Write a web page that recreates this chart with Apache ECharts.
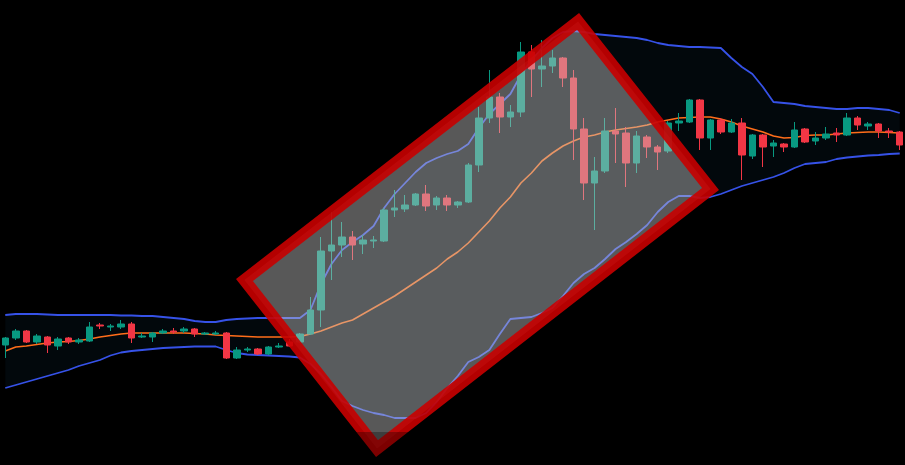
<!DOCTYPE html>
<html>
<head>
<meta charset="utf-8">
<title>Bollinger breakout</title>
<script src="https://cdn.jsdelivr.net/npm/echarts/dist/echarts.min.js"></script>
<style>
  html, body { margin: 0; padding: 0; background: #000; }
  #chart { width: 905px; height: 465px; }
</style>
</head>
<body>
<div id="chart"></div>
<script>
// candles: [open, close, low, high]
var candles = [
  [120,127,107,128],[127,134,125,136],[134,123,122,135],[123,129,121,131],[128,120,112,129],
  [119,126,115,128],[127,123,121,128],[123,125,121,127],[124,138,123,143],[140,139,136,142],
  [138,139,134,141],[138,141,136,145],[141,127,122,143],[128,129,127,132],[128,132,123,133],
  [132,134,131,136],[134,133,131,137],[134,136,132,138],[136,131,128,137],[131,132,130,133],
  [131,132,130,134],[132,107,106,133],[107,115,106,118],[115,116,113,118],[116,111,110,117],
  [111,118,110,119],[118,119,117,122],[123,119,118,126],[123,131,122,132],[131,155,130,168],
  [155,214,138,228],[214,220,185,253],[220,228,208,243],[228,220,205,234],[221,225,211,230],
  [224,225,217,229],[224,255,223,257],[255,257,248,275],[256,260,253,270],[260,271,259,272],
  [271,259,254,280],[260,267,255,269],[267,260,254,270],[260,263,257,264],[263,300,262,302],
  [300,347,293,358],[347,368,342,395],[368,348,332,372],[348,353,338,360],[353,413,348,423],
  [413,396,368,420],[396,399,378,425],[399,407,392,415],[407,387,378,408],[387,336,305,395],
  [336,282,265,347],[282,294,235,308],[294,334,292,347],[334,331,302,357],[332,302,278,338],
  [302,329,292,334],[328,318,307,330],[318,313,295,320],[314,342,312,344],[342,344,334,352],
  [343,365,342,366],[365,327,315,366],[327,345,315,346],[345,333,331,347],[333,342,332,346],
  [342,310,285,347],[309,330,306,331],[330,318,298,331],[319,322,308,325],[321,318,313,322],
  [318,335,317,343],[336,323,322,337],[324,327,320,333],[327,331,325,338],[332,330,323,337],
  [330,347,329,352],[347,340,335,349],[339,341,335,343],[341,334,327,342],[334,333,327,337],
  [333,320,315,334]
];

// bollinger bands
var upper = [
  150,151,151,151,150.5,150,150,150,150,150,
  150,149.5,149.5,149,149,148,147,146,144,143,
  143,145,146,146.5,147,147,147,147,147,155,
  181,201,215,223,230,239,257,271,282,293,
  302,307,311,314,321,337,351,361,371,390,
  405,417,427,433,434,433,431,430,429,428,
  427,425,422,420,419,418,418,417.5,417,407,
  398,391,378,363,362,361,359,358,357,356,
  356,357,357,356,355,352
];
var basis = [
  114,118,119,120.5,122,123,123.5,124.5,126,128,
  129.5,131,132,132,132,132,132,132,131.5,131,
  130,129.5,129,128.5,128,128,128,128,128.5,131,
  134,138,142,145,151,157,163,169,176,183,
  190,197,206,213,222,233,244,257,268,282,
  292,304,312,319,324,328,330,333,335,336.5,
  338,340,343,345,347,347.5,348,348,346,343,
  339,336,333,329,327,327.5,329.5,330,330,331,
  332,332.5,333,333,332.5,332
];
var lower = [
  77,80,83,86,89,92,95,99,102,105,
  109.5,112.5,114,115,116,117,117.5,118,118.5,118.5,
  118.5,115,112,110.5,110,109.5,109,108.5,107.5,101,
  91,78,64,59,55,52,50,47,47,47,
  52,63,77,89,103,108,115,131,146,147,
  148,152,157,169,182,191,197,206,216,223,
  231,240,253,263,269,269,267,268,271,275,
  279,282,285,288,292,297,301,302,303,306,
  307.5,308.5,309.5,310,311,311.5
];

// corners of the drawn box, [bar index, price]
var boxCorners = [[54.43, 443.6], [67.02, 276], [35.33, 16.4], [22.73, 185]];

var categories = candles.map(function (c, i) { return String(i + 1); });
var bandWidth = upper.map(function (u, i) { return u - lower[i]; });

var myChart = echarts.init(document.getElementById('chart'));

myChart.setOption({
  backgroundColor: '#000',
  animation: false,
  grid: { left: 0, right: 0, top: 0, bottom: 0 },
  xAxis: [
    { type: 'category', data: categories, show: false },
    { type: 'value', min: -0.5, max: 85.5, show: false }
  ],
  yAxis: { type: 'value', min: 0, max: 465, show: false, splitLine: { show: false } },
  series: [
    {
      // invisible base of the band fill
      type: 'line', data: lower, stack: 'band', symbol: 'none',
      lineStyle: { opacity: 0 }, silent: true, z: 1
    },
    {
      type: 'line', data: bandWidth, stack: 'band', symbol: 'none',
      lineStyle: { opacity: 0 }, areaStyle: { color: 'rgba(33,150,243,0.07)' },
      silent: true, z: 1
    },
    {
      name: 'upper', type: 'line', data: upper, symbol: 'none',
      lineStyle: { color: '#3652e8', width: 1.8 }, z: 2
    },
    {
      name: 'lower', type: 'line', data: lower, symbol: 'none',
      lineStyle: { color: '#3652e8', width: 1.8 }, z: 2
    },
    {
      name: 'basis', type: 'line', data: basis, symbol: 'none',
      lineStyle: { color: '#ff6d1a', width: 1.6 }, z: 2
    },
    {
      type: 'candlestick',
      data: candles,
      barWidth: 7,
      itemStyle: {
        color: '#089981', color0: '#f23645',
        borderColor: '#089981', borderColor0: '#f23645',
        borderWidth: 1
      },
      z: 3
    },
    {
      // the rotated box drawn over the chart
      type: 'custom',
      xAxisIndex: 1,
      data: [[0, 0]],
      silent: true,
      z: 10,
      renderItem: function (params, api) {
        var pts = boxCorners.map(function (c) { return api.coord(c); });
        return {
          type: 'polygon',
          shape: { points: pts },
          style: {
            fill: 'rgba(200,200,200,0.44)',
            stroke: 'rgba(200,0,0,0.9)',
            lineWidth: 12,
            lineJoin: 'miter'
          }
        };
      }
    }
  ],
  graphic: [
    {
      type: 'rect', z: 100, silent: true,
      shape: { x: 0, y: 432, width: 905, height: 33 },
      style: { fill: 'rgba(0,0,0,0.3)' }
    }
  ]
});
</script>
</body>
</html>
